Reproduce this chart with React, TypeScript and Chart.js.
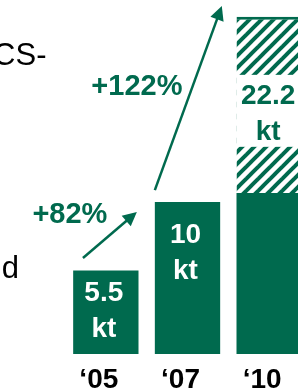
import React, { useEffect, useRef } from 'react';
import { Chart, registerables } from 'chart.js';

Chart.register(...registerables);

// ---- data ----
const categories = ['\u201805', '\u201807', '\u201810'];
const solidValues = [5.5, 10, 10.6];
const hatchedValues = [null, null, 11.6];
const barLabelTop = ['5.5', '10', '22.2'];
const barLabelUnit = ['kt', 'kt', 'kt'];
const growthLabels = ['+82%', '+122%'];
// annotation anchors in data space: [category position, value]
const arrowFrom = [[-0.28, 6.32], [0.6, 10.79]];
const arrowTo = [[0.38, 9.35], [1.42, 22.9]];
const growthLabelAt = [[-0.44, 8.62], [0.38, 17.05]];
const sideTexts = ['CS-', 'd'];

// ---- styles ----
const GREEN = '#006A4E';
const FONT = "'Liberation Sans', Arial, sans-serif";
const labelBaselineOffsets = [31, 41];
const sideTextPos = [
  [46.5, 64.5],
  [19, 278],
];

function makeHatch(): CanvasPattern | string {
  const s = 12;
  const c = document.createElement('canvas');
  c.width = s;
  c.height = s;
  const g = c.getContext('2d');
  if (!g) return GREEN;
  g.fillStyle = '#ffffff';
  g.fillRect(0, 0, s, s);
  g.strokeStyle = GREEN;
  g.lineWidth = 4;
  for (let k = -1; k <= 1; k++) {
    g.beginPath();
    g.moveTo(k * s - 2, s + 2);
    g.lineTo(k * s + s + 2, -2);
    g.stroke();
  }
  const p = g.createPattern(c, 'repeat');
  if (!p) return GREEN;
  try {
    p.setTransform(new DOMMatrix().translate(5, 0));
  } catch (e) {}
  return p;
}

function drawArrow(ctx: CanvasRenderingContext2D, x1: number, y1: number, x2: number, y2: number) {
  const ang = Math.atan2(y2 - y1, x2 - x1);
  const hl = 14;
  const hw = 7;
  const c = Math.cos(ang);
  const s = Math.sin(ang);
  const bx = x2 - hl * c;
  const by = y2 - hl * s;
  ctx.strokeStyle = GREEN;
  ctx.fillStyle = GREEN;
  ctx.lineWidth = 2.5;
  ctx.beginPath();
  ctx.moveTo(x1, y1);
  ctx.lineTo(bx + 2 * c, by + 2 * s);
  ctx.stroke();
  ctx.beginPath();
  ctx.moveTo(x2, y2);
  ctx.lineTo(bx + hw * s, by - hw * c);
  ctx.lineTo(bx - hw * s, by + hw * c);
  ctx.closePath();
  ctx.fill();
}

const annotPlugin = {
  id: 'annot',
  afterDatasetsDraw(chart: any) {
    const { ctx } = chart;
    const xs = chart.scales.x;
    const ys = chart.scales.y;
    ctx.save();
    ctx.textAlign = 'center';
    ctx.textBaseline = 'alphabetic';
    ctx.font = `bold 28px ${FONT}`;

    // labels inside solid bars
    const m0 = chart.getDatasetMeta(0);
    for (let i = 0; i < 2; i++) {
      const b: any = m0.data[i];
      ctx.fillStyle = '#ffffff';
      ctx.fillText(barLabelTop[i], b.x - 2, b.y + labelBaselineOffsets[i]);
      ctx.fillText(barLabelUnit[i], b.x - 2, b.y + labelBaselineOffsets[i] + 36);
    }

    // label inside hatched bar
    const m1 = chart.getDatasetMeta(1);
    const h: any = m1.data[2];
    const cy = (h.y + h.base) / 2 + 6;
    ctx.fillStyle = '#ffffff';
    ctx.fillRect(h.x - h.width / 2, cy - 36, h.width, 72);
    ctx.fillStyle = GREEN;
    ctx.fillText(barLabelTop[2], h.x - 1, cy - 7);
    ctx.fillText(barLabelUnit[2], h.x - 1, cy + 29);

    // arrows
    for (let i = 0; i < arrowFrom.length; i++) {
      drawArrow(
        ctx,
        xs.getPixelForValue(arrowFrom[i][0]),
        ys.getPixelForValue(arrowFrom[i][1]),
        xs.getPixelForValue(arrowTo[i][0]),
        ys.getPixelForValue(arrowTo[i][1])
      );
    }

    // growth labels
    ctx.font = `bold 29px ${FONT}`;
    ctx.fillStyle = GREEN;
    ctx.textAlign = 'center';
    for (let i = 0; i < growthLabels.length; i++) {
      ctx.fillText(
        growthLabels[i],
        xs.getPixelForValue(growthLabelAt[i][0]),
        ys.getPixelForValue(growthLabelAt[i][1])
      );
    }

    // cut-off side texts
    ctx.font = `31px ${FONT}`;
    ctx.fillStyle = '#000000';
    ctx.textAlign = 'right';
    for (let i = 0; i < sideTexts.length; i++) {
      ctx.fillText(sideTexts[i], sideTextPos[i][0], sideTextPos[i][1]);
    }
    ctx.restore();
  },
};

export default function App() {
  const ref = useRef<HTMLCanvasElement | null>(null);

  useEffect(() => {
    const canvas = ref.current;
    if (!canvas) return;
    const hatch = makeHatch();
    const chart = new Chart(canvas, {
      type: 'bar',
      data: {
        labels: categories,
        datasets: [
          {
            data: solidValues,
            backgroundColor: GREEN,
            borderWidth: 0,
            barPercentage: 0.8,
            categoryPercentage: 1,
          },
          {
            data: hatchedValues as any,
            backgroundColor: hatch as any,
            borderColor: GREEN,
            borderWidth: { top: 3, left: 0, right: 0, bottom: 0 } as any,
            borderSkipped: false,
            barPercentage: 0.8,
            categoryPercentage: 1,
          },
        ],
      },
      options: {
        responsive: false,
        animation: false,
        events: [],
        layout: { padding: { left: 65, right: 10, top: 0, bottom: 0 } },
        plugins: {
          legend: { display: false },
          tooltip: { enabled: false },
        },
        scales: {
          x: {
            stacked: true,
            grid: { display: false, drawTicks: false },
            border: { display: false },
            ticks: {
              color: '#000000',
              font: { family: FONT, size: 28, weight: 'bold', lineHeight: 1 },
              padding: 12,
              labelOffset: -7,
              maxRotation: 0,
              autoSkip: false,
            },
            afterFit: (s: any) => {
              s.height = 38;
            },
          },
          y: { stacked: true, display: false, min: 0, max: 23.3 },
        },
      } as any,
      plugins: [annotPlugin],
    });
    return () => chart.destroy();
  }, []);

  return (
    <div
      style={{
        position: 'fixed',
        left: 0,
        top: 0,
        width: 298,
        height: 392,
        overflow: 'hidden',
        background: '#ffffff',
      }}
    >
      <canvas ref={ref} width={320} height={392} style={{ width: 320, height: 392, display: 'block' }} />
    </div>
  );
}
